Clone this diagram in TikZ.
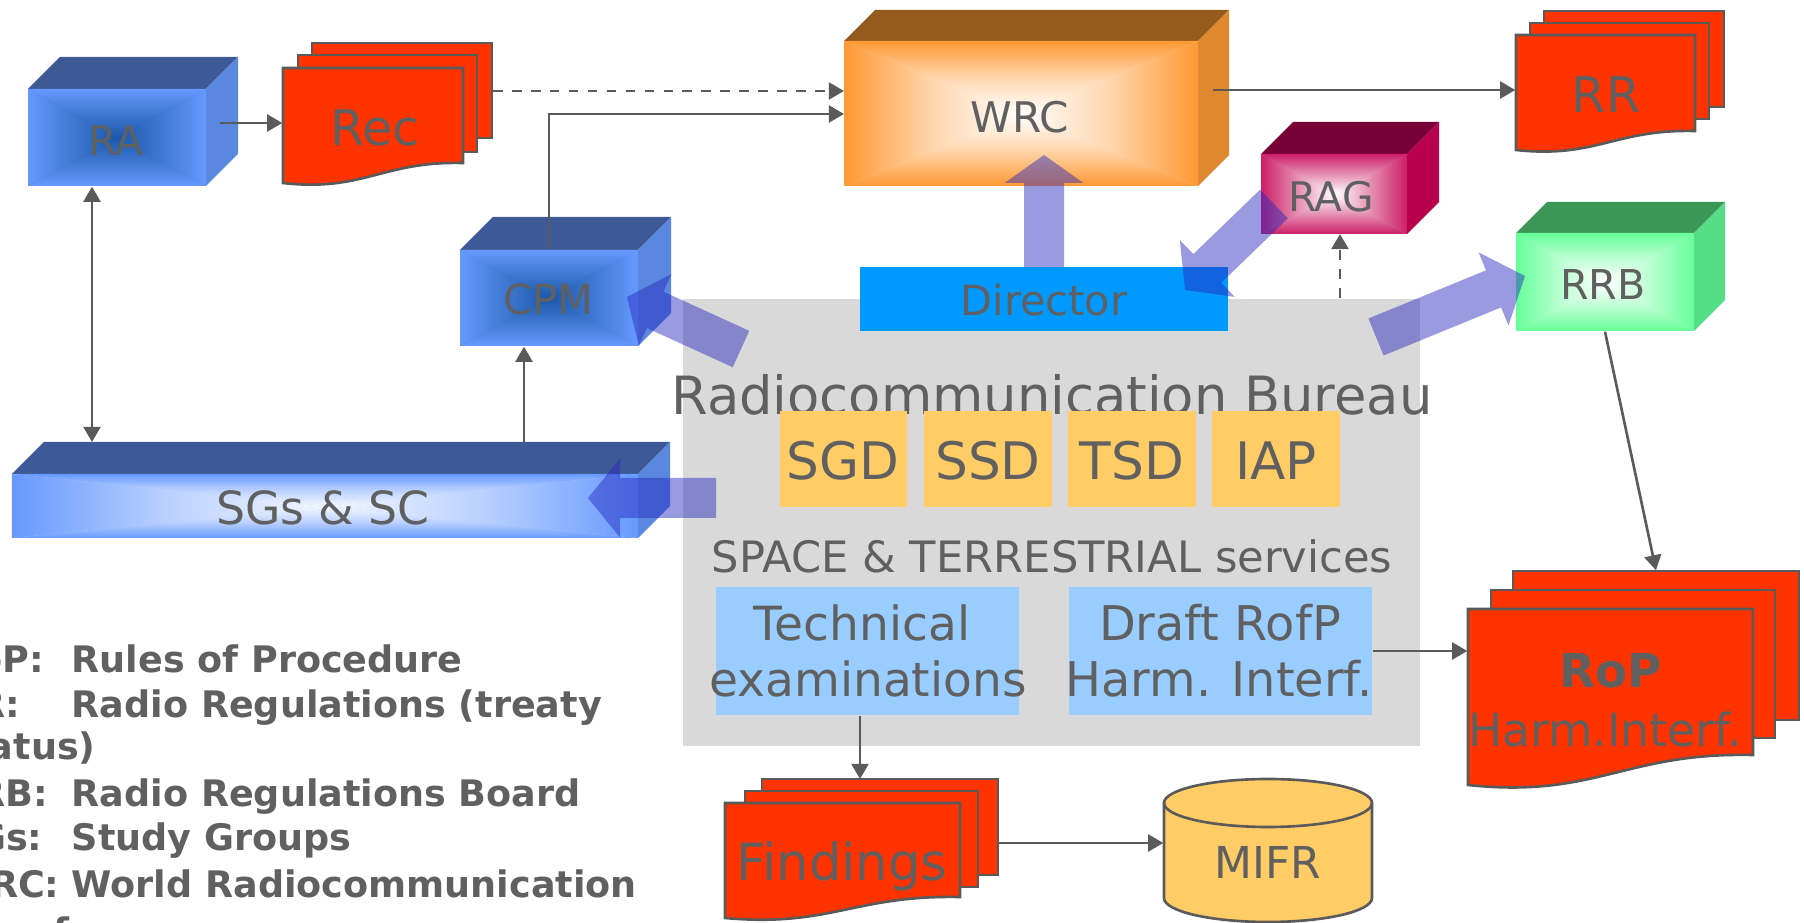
\documentclass[tikz,border=0pt]{standalone}
\usepackage{fontspec}
\setmainfont{DejaVu Sans}
\usetikzlibrary{calc,fit,arrows.meta}

\definecolor{txt}{HTML}{606060}
\definecolor{ln}{HTML}{5A5A5A}
\definecolor{bggray}{HTML}{D9D9D9}
\definecolor{dirblue}{HTML}{0099FF}
\definecolor{orbox}{HTML}{FFCC66}
\definecolor{ltblue}{HTML}{99CCFF}
\definecolor{docred}{HTML}{FF3300}
\definecolor{fatc}{HTML}{2828BE}
% cuboid colours
\definecolor{ratop}{HTML}{3D5A96}\definecolor{raside}{HTML}{5A88E0}
\definecolor{raout}{HTML}{6699FF}\definecolor{rain}{HTML}{1A58A8}\colorlet{ramid}{raout!50!rain}
\definecolor{sgtop}{HTML}{3D5A96}\definecolor{sgside}{HTML}{5A88E0}
\definecolor{sgout}{HTML}{6699FF}\definecolor{sgin}{HTML}{F4F7FF}\colorlet{sgmid}{sgout!45!white}
\definecolor{wrtop}{HTML}{955A1E}\definecolor{wrside}{HTML}{E0882E}
\definecolor{wrout}{HTML}{FF9933}\definecolor{wrin}{HTML}{FFFFFF}\colorlet{wrmid}{wrout!40!white}
\definecolor{rgtop}{HTML}{7A0038}\definecolor{rgside}{HTML}{B8004F}
\definecolor{rgout}{HTML}{CC1F66}\definecolor{rgin}{HTML}{FFFFFF}\colorlet{rgmid}{rgout!50!white}
\definecolor{rbtop}{HTML}{3C9658}\definecolor{rbside}{HTML}{55DD85}
\definecolor{rbout}{HTML}{66FF99}\definecolor{rbin}{HTML}{FFFFFF}\colorlet{rbmid}{rbout!45!white}

\tikzset{
  lbl/.style={text=txt, inner sep=0pt, anchor=base},
  leg/.style={text=txt, inner sep=0pt, anchor=base west, font=\fontsize{10.4}{12}\selectfont\bfseries},
  conn/.style={draw=ln, line width=0.75pt, -{Triangle[length=4.3pt,width=4.8pt]}},
  conn2/.style={draw=ln, line width=0.75pt, {Triangle[length=4.3pt,width=4.8pt]}-{Triangle[length=4.3pt,width=4.8pt]}},
  dsh/.style={dash pattern=on 2.8pt off 2.6pt},
  pagestyle/.style={fill=docred, draw=ln, line width=0.75pt},
  fat/.style={fill=fatc, fill opacity=0.47},
  area/.style={inner sep=0pt},
}

% 3D box: name, colour prefix, x1, y1, x2, y2 (front face), depth
\newcommand{\cuboid}[7]{%
  \fill[#2top] (#3,#4) -- ({#3+#7},{#4-#7}) -- ({#5+#7},{#4-#7}) -- (#5,#4) -- cycle;
  \fill[#2side] (#5,#4) -- ({#5+#7},{#4-#7}) -- ({#5+#7},{#6-#7}) -- (#5,#6) -- cycle;
  \fill[#2mid] (#3,#4) rectangle (#5,#6);
  \coordinate (cuc) at ({(#3+#5)/2},{(#4+#6)/2});
  \shade[top color=#2out, bottom color=#2in, middle color=#2mid] (#3,#4) -- (#5,#4) -- (cuc) -- cycle;
  \shade[top color=#2in, bottom color=#2out, middle color=#2mid] (#3,#6) -- (#5,#6) -- (cuc) -- cycle;
  \shade[left color=#2out, right color=#2in, middle color=#2mid] (#3,#4) -- (#3,#6) -- (cuc) -- cycle;
  \shade[left color=#2in, right color=#2out, middle color=#2mid] (#5,#4) -- (#5,#6) -- (cuc) -- cycle;
  \node[fit={(#3,#4) (#5,#6)}, area] (#1) {};
}
% document page with wavy bottom: name, x1, y1, x2, yR, yL
\newcommand{\wavepage}[6]{%
  \draw[pagestyle] (#2,#3) -- (#4,#3) -- (#4,#5)
    .. controls ({#4-0.45*(#4-#2)},{#5-0.1*(#6-#5)}) and ({#2+0.45*(#4-#2)},{#6+0.45*(#6-#5)}) .. (#2,#6) -- cycle;
  \node[fit={(#2,#3) (#4,#6)}, area] (#1) {};
}
% back page: name, x1, y1, x2, y2
\newcommand{\backpage}[5]{%
  \draw[pagestyle] (#2,#3) rectangle (#4,#5);
  \node[fit={(#2,#3) (#4,#5)}, area] (#1) {};
}
% fat translucent arrow: tail, tip, half shaft, half head, head length
\newcommand{\fatarrow}[5]{%
  \coordinate (fab) at ($(#2)!#5!(#1)$);
  \fill[fat] ($(#1)!#3!90:(#2)$) -- ($(fab)!#3!-90:(#1)$) -- ($(fab)!#4!-90:(#1)$) -- (#2)
    -- ($(fab)!#4!90:(#1)$) -- ($(fab)!#3!90:(#1)$) -- ($(#1)!#3!-90:(#2)$) -- cycle;
}

\begin{document}
\begin{tikzpicture}[x=0.1mm, y=-0.1mm]
\useasboundingbox (0,0) rectangle (1804,923);
\clip (0,0) rectangle (1804,923);

% ---------------- Radiocommunication Bureau area
\node[fit={(683,299) (1420,746)}, area, fill=bggray] (RB) {};
\node[fit={(860,267) (1228,331)}, area, fill=dirblue] (Dir) {};
\node[lbl, font=\fontsize{11.8}{14}\selectfont] (DirT) at (1044,316) {Director};
\node[lbl, font=\fontsize{15}{17}\selectfont] (RBT) at (1052,415) {Radiocommunication Bureau};

\node[fit={(780,411) (907,507)}, area, fill=orbox] (SGD) {};
\node[fit={(924,411) (1052,507)}, area, fill=orbox] (SSD) {};
\node[fit={(1068,411) (1196,507)}, area, fill=orbox] (TSD) {};
\node[fit={(1212,411) (1340,507)}, area, fill=orbox] (IAP) {};
\node[lbl, font=\fontsize{14.7}{17}\selectfont] (SGDT) at (843,480) {SGD};
\node[lbl, font=\fontsize{14.7}{17}\selectfont] (SSDT) at (988,480) {SSD};
\node[lbl, font=\fontsize{14.7}{17}\selectfont] (TSDT) at (1132,480) {TSD};
\node[lbl, font=\fontsize{14.7}{17}\selectfont] (IAPT) at (1276,480) {IAP};

\node[lbl, font=\fontsize{12.3}{14}\selectfont] (SPT) at (1052,572) {SPACE \& TERRESTRIAL services};

\node[fit={(716,587) (1019,715)}, area, fill=ltblue] (Tech) {};
\node[fit={(1069,587) (1372,715)}, area, fill=ltblue] (Draft) {};
\node[lbl, font=\fontsize{13.4}{16}\selectfont] (TechT1) at (862,640) {Technical};
\node[lbl, font=\fontsize{13.4}{16}\selectfont] (TechT2) at (868,697) {examinations};
\node[lbl, font=\fontsize{13.6}{16}\selectfont] (DraftT1) at (1220,640) {Draft RofP};
\node[lbl, font=\fontsize{13.6}{16}\selectfont] (DraftT2) at (1219,697) {Harm. Interf.};

% ---------------- 3D boxes
\cuboid{RA}{ra}{28}{89}{206}{186}{32}
\node[lbl, font=\fontsize{11.6}{14}\selectfont] (RAT) at (116,156) {RA};
\cuboid{CPM}{ra}{460}{250}{638}{346}{33}
\node[lbl, font=\fontsize{11.8}{14}\selectfont] (CPMT) at (548,315) {CPM};
\cuboid{SGs}{sg}{12}{474}{638}{538}{32}
\node[lbl, font=\fontsize{13}{15}\selectfont] (SGsT) at (323,525) {SGs \& SC};
\cuboid{WRC}{wr}{844}{41}{1198}{186}{31}
\node[lbl, font=\fontsize{12}{14}\selectfont] (WRCT) at (1020,133) {WRC};
\cuboid{RAG}{rg}{1261}{154}{1407}{234}{32}
\node[lbl, font=\fontsize{11.6}{14}\selectfont] (RAGT) at (1331,212) {RAG};
\cuboid{RRB}{rb}{1516}{233}{1694}{331}{31}
\node[lbl, font=\fontsize{11.7}{14}\selectfont] (RRBT) at (1603,300) {RRB};

% ---------------- documents
\backpage{Rec3}{312}{43}{492}{138}
\backpage{Rec2}{298}{55}{477}{152}
\wavepage{Rec}{283}{68}{463}{163}{183}
\node[lbl, font=\fontsize{14}{16}\selectfont] (RecT) at (375,146) {Rec};

\backpage{RR3}{1544}{11}{1724}{107}
\backpage{RR2}{1530}{23}{1709}{119}
\wavepage{RR}{1516}{35}{1695}{131}{150}
\node[lbl, font=\fontsize{14}{16}\selectfont] (RRT) at (1606,113) {RR};

\backpage{Find3}{762}{779}{998}{875}
\backpage{Find2}{745}{791}{978}{887}
\wavepage{Find}{725}{803}{960}{897}{918}
\node[lbl, font=\fontsize{14.6}{17}\selectfont] (FindT) at (842,880) {Findings};

\backpage{RoP3}{1513}{571}{1799}{720}
\backpage{RoP2}{1491}{590}{1775}{738}
\wavepage{RoP}{1468}{609}{1753}{755}{785}
\node[lbl, font=\fontsize{13.3}{16}\selectfont\bfseries] (RoPT1) at (1611,687) {RoP};
\node[lbl, font=\fontsize{13}{16}\selectfont] (RoPT2) at (1605,747) {Harm.Interf.};

% ---------------- MIFR cylinder
\fill[orbox, draw=ln, line width=0.75pt] (1164,803) -- (1164,898)
  arc[start angle=180, end angle=360, x radius=10.4mm, y radius=2.4mm] -- (1372,803)
  arc[start angle=0, end angle=180, x radius=10.4mm, y radius=2.4mm] -- cycle;
\draw[ln, line width=0.75pt] (1164,803) arc[start angle=180, end angle=360, x radius=10.4mm, y radius=2.4mm];
\node[fit={(1164,778) (1372,922)}, area] (MIFR) {};
\node[lbl, font=\fontsize{12.5}{15}\selectfont] (MIFRT) at (1268,879) {MIFR};

% ---------------- connectors
\coordinate (raOut) at (220,123);
\draw[conn] (raOut) -- (raOut -| Rec.west);
\coordinate (wrcInA) at (844,91);
\draw[conn, dsh] (wrcInA -| Rec3.east) -- (wrcInA);
\coordinate (wrcInB) at (844,114);
\draw[conn] (CPM.north) |- (wrcInB);
\coordinate (wrcOut) at (1213,90);
\draw[conn] (wrcOut) -- (wrcOut -| RR.west);
\coordinate (ragIn) at (1340,234);
\draw[conn, dsh] (ragIn |- RB.north) -- (ragIn);
\coordinate (sgUpA) at (92,442);
\draw[conn2] (RA.south -| sgUpA) -- (sgUpA);
\coordinate (sgUpB) at (524,442);
\draw[conn] (sgUpB) -- (sgUpB |- CPM.south);
\draw[conn] (RRB.south) -- (RoP3.north);
\draw[conn] (Draft.east) -- (Draft.east -| RoP.west);
\coordinate (findIn) at (860,779);
\draw[conn] (findIn |- Tech.south) -- (findIn);
\coordinate (findOut) at (998,843);
\draw[conn] (findOut) -- (findOut -| MIFR.west);

% ---------------- big translucent arrows
\coordinate (faT1) at (741,349); \coordinate (faH1) at (627,297);
\fatarrow{faT1}{faH1}{2mm}{3.95mm}{3.1mm}
\coordinate (faT2) at (716,498); \coordinate (faH2) at (588,498);
\fatarrow{faT2}{faH2}{2mm}{3.95mm}{3.2mm}
\coordinate (faT3) at (1044,267); \coordinate (faH3) at (1044,155);
\fatarrow{faT3}{faH3}{2mm}{3.95mm}{2.8mm}
\coordinate (faT4) at (1274,204); \coordinate (faH4) at (1185,290);
\fatarrow{faT4}{faH4}{2mm}{3.95mm}{3.1mm}
\coordinate (faT5) at (1376,337); \coordinate (faH5) at (1525,276);
\fatarrow{faT5}{faH5}{2mm}{3.95mm}{3.4mm}

% ---------------- legend
\node[leg] (lgA) at (-51,673) {RoP:};
\node[leg] (lgAv) at (71,673) {Rules of Procedure};
\node[leg] (lgB) at (-51,718) {RR:};
\node[leg] (lgBv) at (71,718) {Radio Regulations (treaty};
\node[leg] (lgBw) at (-51,760) {status)};
\node[leg] (lgC) at (-51,807) {RRB:};
\node[leg] (lgCv) at (71,807) {Radio Regulations Board};
\node[leg] (lgD) at (-51,851) {SGs:};
\node[leg] (lgDv) at (71,851) {Study Groups};
\node[leg] (lgE) at (-51,897) {WRC:};
\node[leg] (lgEv) at (71,897) {World Radiocommunication};
\node[leg] (lgEw) at (-25,945) {Conference};
\end{tikzpicture}
\end{document}
